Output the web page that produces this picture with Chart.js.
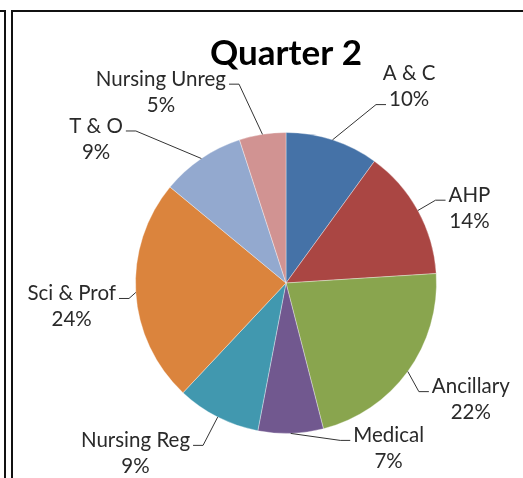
<!DOCTYPE html>
<html>
<head>
<meta charset="utf-8">
<script src="https://cdn.jsdelivr.net/npm/chart.js@4"></script>
<style>
  html, body { margin: 0; padding: 0; background: #fff; }
  #wrap { position: relative; width: 523px; height: 478px; overflow: hidden; }
  #leftBox { position: absolute; left: -4px; top: 10px; width: 8px; height: 480px;
             border-top: 2px solid #111; border-right: 2px solid #111; }
  #chartBox { position: absolute; left: 11px; top: 10px; width: 520px; height: 480px;
              border-top: 2px solid #111; border-left: 2px solid #111; }
  canvas { position: absolute; left: 0; top: 0; }
</style>
</head>
<body>
<div id="wrap">
  <div id="leftBox"></div>
  <div id="chartBox"></div>
  <canvas id="c" width="523" height="478"></canvas>
</div>
<script>
// ---- data ----
const chartTitle = "Quarter 2";
const categories = ["A & C", "AHP", "Ancillary", "Medical", "Nursing Reg", "Sci & Prof", "T & O", "Nursing Unreg"];
const shares = [10, 14, 22, 7, 9, 24, 9, 5];
const sliceColors = ["#4572A7", "#AA4643", "#89A54E", "#71588F", "#4198AF", "#DB843D", "#93A9CF", "#D19392"];

// ---- label layout (label centre relative to pie centre, in radius units) ----
const labelOffsets = [
  [0.818, -1.305], [1.219, -0.497], [1.228, 0.775], [0.682, 1.099],
  [-1.000, 1.132], [-1.424, 0.156], [-1.262, -0.957], [-0.831, -1.268]
];
const leaderLine = [1, 0, 0, 0, 0, 0, 0, 0]; // which text line the leader attaches to

const FONT = "Lato, 'Open Sans', sans-serif";
const labelFontSize = 20.5;
const lineGap = 26;

const pieLabels = {
  id: 'pieLabels',
  afterDatasetsDraw(chart) {
    const ctx = chart.ctx;
    const meta = chart.getDatasetMeta(0);
    const total = shares.reduce((a, b) => a + b, 0);
    ctx.save();
    ctx.font = labelFontSize + "px " + FONT;
    ctx.textAlign = "center";
    ctx.textBaseline = "middle";
    meta.data.forEach((arc, i) => {
      const p = arc.getProps(['x', 'y', 'startAngle', 'endAngle', 'outerRadius'], true);
      const mid = (p.startAngle + p.endAngle) / 2;
      const ax = p.x + Math.cos(mid) * p.outerRadius;
      const ay = p.y + Math.sin(mid) * p.outerRadius;
      const lx = p.x + labelOffsets[i][0] * p.outerRadius;
      const ly = p.y + labelOffsets[i][1] * p.outerRadius;
      const lines = [categories[i], Math.round(shares[i] / total * 100) + "%"];
      const y0 = ly - lineGap / 2;
      const y1 = ly + lineGap / 2;
      const li = leaderLine[i];
      const w = ctx.measureText(lines[li]).width;
      const cy = (li === 0 ? y0 : y1) + 5;
      const right = lx > p.x;
      const ex = right ? lx - w / 2 - 3 : lx + w / 2 + 3;
      const elx = right ? ex - 10 : ex + 10;
      ctx.strokeStyle = "#333";
      ctx.lineWidth = 1;
      ctx.beginPath();
      ctx.moveTo(ax, ay);
      ctx.lineTo(elx, cy);
      ctx.lineTo(ex, cy);
      ctx.stroke();
      ctx.fillStyle = "#2a2a2a";
      ctx.fillText(lines[0], lx, y0);
      ctx.fillText(lines[1], lx, y1);
    });
    ctx.font = "bold 35px " + FONT;
    ctx.fillStyle = "#000";
    ctx.textBaseline = "alphabetic";
    const area = chart.chartArea;
    ctx.fillText(chartTitle, (area.left + area.right) / 2, 65);
    ctx.restore();
  }
};

new Chart(document.getElementById('c'), {
  type: 'pie',
  data: {
    labels: categories,
    datasets: [{
      data: shares,
      backgroundColor: sliceColors,
      borderColor: 'rgba(255,255,255,0.35)',
      borderWidth: 1
    }]
  },
  options: {
    responsive: false,
    animation: false,
    layout: { padding: { left: 135, right: 86, top: 132, bottom: 44 } },
    plugins: {
      legend: { display: false },
      tooltip: { enabled: false },
      title: { display: false }
    }
  },
  plugins: [pieLabels]
});
</script>
</body>
</html>
